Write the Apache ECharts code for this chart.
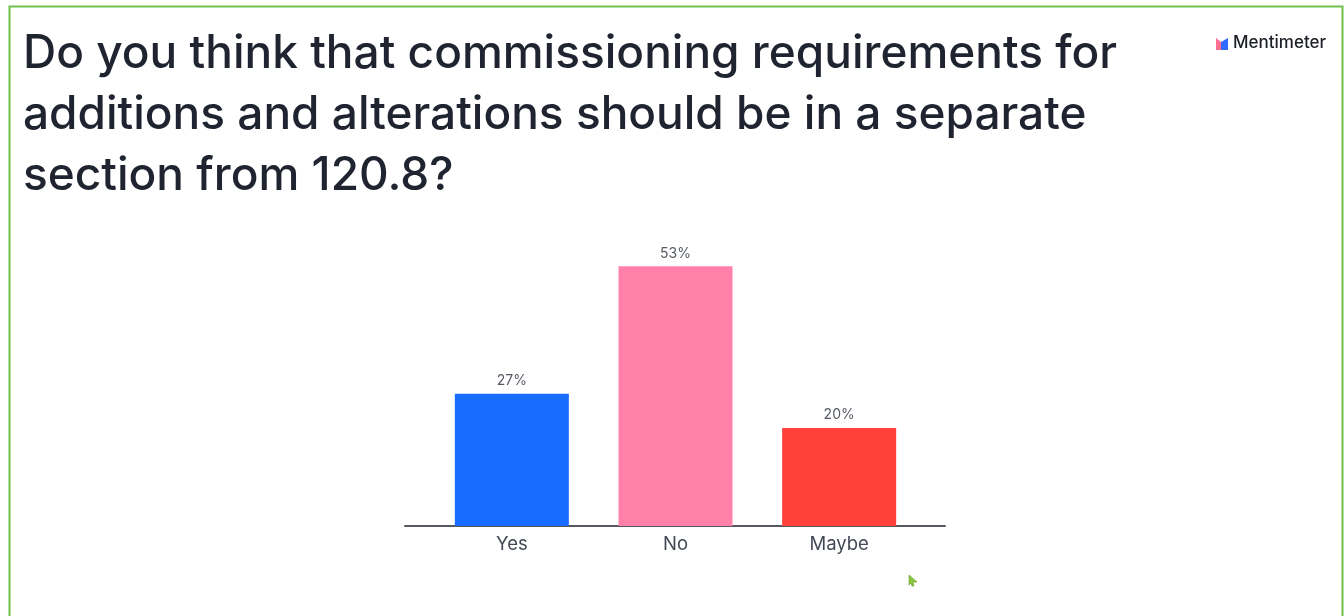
<!DOCTYPE html>
<html>
<head>
<meta charset="utf-8">
<title>Commissioning requirements poll</title>
<script src="https://cdn.jsdelivr.net/npm/echarts@6/dist/echarts.min.js"></script>
<style>
  html, body { margin: 0; padding: 0; background: #ffffff; }
  #chart { width: 1344px; height: 616px; }
</style>
</head>
<body>
<div id="chart"></div>
<script>
// Poll question, answer options and share of votes (%)
const question = 'Do you think that commissioning requirements for\nadditions and alterations should be in a separate\nsection from 120.8?';
const categories = ['Yes', 'No', 'Maybe'];
const values = [27, 53, 20];
const barColors = ['#196cff', '#ff80a9', '#ff403b'];

const chart = echarts.init(document.getElementById('chart'), null, { renderer: 'canvas' });

const option = {
  backgroundColor: '#ffffff',
  animation: false,
  title: {
    text: question,
    left: 23,
    top: 24,
    padding: 0,
    textStyle: {
      fontFamily: 'Inter',
      fontSize: 46,
      fontWeight: 500,
      color: '#1f2430',
      lineHeight: 61
    }
  },
  grid: [
    { left: 430, width: 491, top: 36, bottom: 90 },
    { left: 405, width: 540, top: 36, bottom: 90 }
  ],
  xAxis: [
    {
      type: 'category',
      gridIndex: 0,
      data: categories,
      axisLine: { show: false },
      axisTick: { show: false },
      axisLabel: {
        fontFamily: 'Inter',
        fontSize: 18.5,
        color: '#444a55',
        margin: 9
      }
    },
    {
      type: 'category',
      gridIndex: 1,
      data: categories,
      axisLine: { show: true, lineStyle: { color: '#55585e', width: 2 } },
      axisTick: { show: false },
      axisLabel: { show: false }
    }
  ],
  yAxis: [
    { type: 'value', gridIndex: 0, min: 0, max: 100, show: false },
    { type: 'value', gridIndex: 1, min: 0, max: 100, show: false }
  ],
  series: [
    {
      type: 'bar',
      xAxisIndex: 0,
      yAxisIndex: 0,
      barWidth: 114,
      data: values.map((v, i) => ({ value: v, itemStyle: { color: barColors[i] } })),
      label: {
        show: true,
        position: 'top',
        distance: 6,
        formatter: p => p.value + '%',
        fontFamily: 'Inter',
        fontSize: 14,
        color: '#555a63'
      },
      z: 3
    }
  ],
  graphic: [
    // slide frame
    {
      type: 'rect',
      shape: { x: 9.5, y: 6.5, width: 1333, height: 640 },
      style: { fill: 'none', stroke: '#6cc24a', lineWidth: 2 },
      silent: true
    },
    // brand mark
    {
      type: 'group',
      left: 1216,
      top: 38,
      children: [
        { type: 'polygon', shape: { points: [[0, 0], [5, 4], [5, 12], [0, 12]] }, style: { fill: '#ff6f91' } },
        { type: 'polygon', shape: { points: [[5, 4], [12, 0], [12, 12], [5, 12]] }, style: { fill: '#2f6bff' } }
      ]
    },
    {
      type: 'text',
      left: 1233,
      top: 34,
      style: {
        text: 'Mentimeter',
        fontFamily: 'Inter',
        fontSize: 17,
        fontWeight: 500,
        fill: '#1c1f26'
      }
    },
    // pointer
    {
      type: 'polygon',
      shape: { points: [[909, 575], [917, 582], [913, 582], [914, 586], [912, 586], [911, 583], [909, 585]] },
      style: { fill: '#8dc63f', stroke: '#5e9a2a', lineWidth: 0.6 }
    }
  ]
};

chart.setOption(option);
</script>
</body>
</html>
